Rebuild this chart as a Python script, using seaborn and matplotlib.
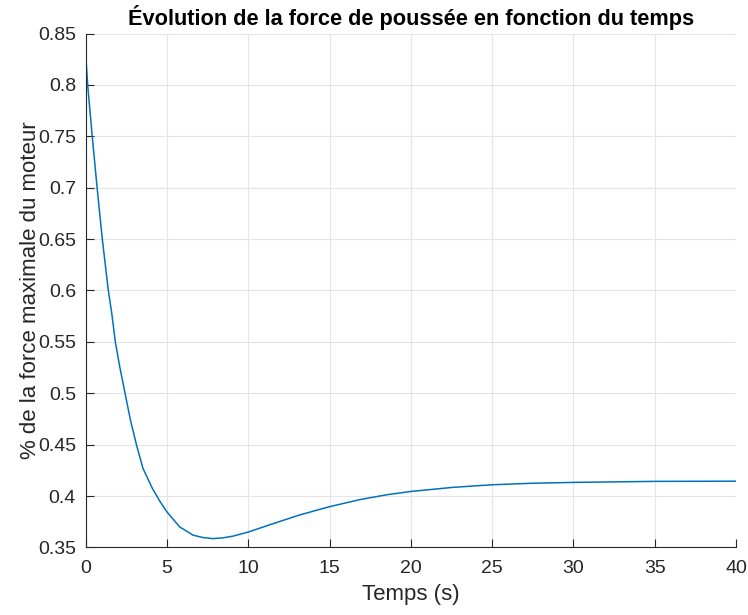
import matplotlib
matplotlib.use("Agg")
import matplotlib.pyplot as plt
import seaborn as sns
import pandas as pd

temps = [0, 0.12, 0.40, 0.70, 1.02, 1.39, 1.60, 1.82, 2.09, 2.42, 2.75, 3.12,
         3.52, 4.10, 4.55, 5.0, 5.78, 6.6, 7.2, 7.82, 8.4, 9.05, 10.0, 11.3,
         13.15, 15.0, 16.84, 18.48, 20.0, 22.6, 25.0, 27.5, 30.0, 35.0, 40.0]
force = [0.829, 0.80, 0.75, 0.70, 0.65, 0.60, 0.578, 0.55, 0.526, 0.50, 0.474,
         0.45, 0.427, 0.4075, 0.3952, 0.3845, 0.370, 0.362, 0.3597, 0.3586,
         0.3593, 0.361, 0.365, 0.372, 0.3816, 0.3897, 0.3965, 0.4012, 0.4045,
         0.4085, 0.4110, 0.4125, 0.4133, 0.4143, 0.4145]
xticks = [0, 5, 10, 15, 20, 25, 30, 35, 40]
yticks = [0.35, 0.4, 0.45, 0.5, 0.55, 0.6, 0.65, 0.7, 0.75, 0.8, 0.85]
ytick_labels = ["0.35", "0.4", "0.45", "0.5", "0.55", "0.6", "0.65", "0.7", "0.75", "0.8", "0.85"]

sns.set_theme(style="whitegrid")
plt.rcParams['font.family'] = ['Liberation Sans', 'DejaVu Sans']

df = pd.DataFrame({"t": temps, "f": force})

fig = plt.figure(figsize=(7.48, 6.15), dpi=100)
ax = fig.add_axes([0.1146, 0.1098, 0.8694, 0.8357])
sns.lineplot(data=df, x="t", y="f", ax=ax, color="#0072BD", linewidth=1.1)

ax.set_xlim(0, 40)
ax.set_ylim(0.35, 0.85)
ax.set_xticks(xticks)
ax.set_xticklabels([str(v) for v in xticks])
ax.set_yticks(yticks)
ax.set_yticklabels(ytick_labels)

ax.grid(True, color="#e5e5e5", linewidth=0.8)
ax.set_facecolor("white")
for side in ["top", "right"]:
    ax.spines[side].set_visible(False)
for side in ["left", "bottom"]:
    ax.spines[side].set_visible(True)
    ax.spines[side].set_color("#262626")
    ax.spines[side].set_linewidth(0.8)

ax.tick_params(axis="both", direction="in", length=6, width=0.8, color="#262626",
               labelsize=14, labelcolor="#262626", left=True, bottom=True)
ax.tick_params(axis="x", pad=9)
ax.tick_params(axis="y", pad=7)

ax.set_xlabel("Temps (s)", fontsize=16, color="#262626", labelpad=5)
ax.set_ylabel("% de la force maximale du moteur", fontsize=16, color="#262626", labelpad=-2)
ax.set_title("Évolution de la force de poussée en fonction du temps",
             fontsize=15.7, fontweight="bold", color="black", pad=6)

fig.savefig("out.png", dpi=100, facecolor="white")
